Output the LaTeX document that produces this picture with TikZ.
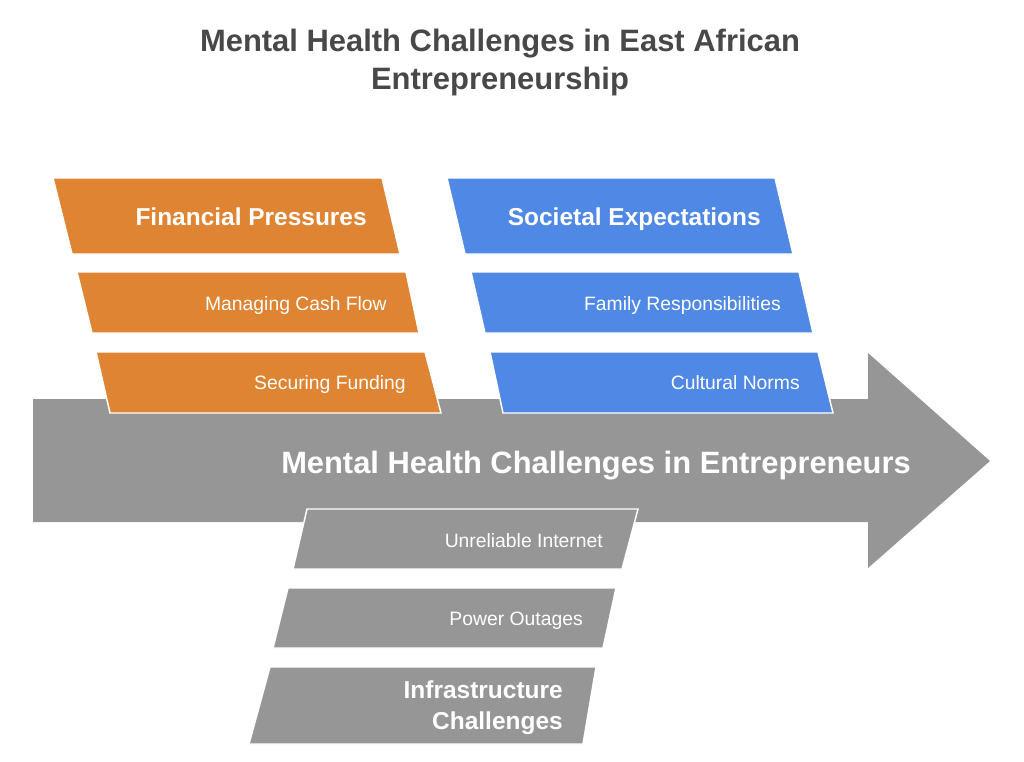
\documentclass[tikz,border=0pt]{standalone}
\usepackage{fontspec}
\setmainfont{Liberation Sans}
\definecolor{orangec}{RGB}{222,132,50}
\definecolor{bluec}{RGB}{79,137,229}
\definecolor{grayc}{RGB}{150,150,150}
\definecolor{titlec}{RGB}{72,72,72}
\tikzset{
  panel/.style={draw=white, line width=1.1pt, line join=miter},
  titletext/.style={font=\fontsize{23.2}{27}\selectfont\bfseries, text=titlec, inner sep=0pt},
  headtext/.style={font=\fontsize{18.35}{21}\selectfont\bfseries, text=white, inner sep=0pt},
  itemtext/.style={font=\fontsize{14.5}{17}\selectfont, text=white, inner sep=0pt},
  spinetext/.style={font=\fontsize{23.15}{27}\selectfont\bfseries, text=white, inner sep=0pt}
}
\begin{document}
\begin{tikzpicture}[x=0.75pt,y=-0.75pt]
\useasboundingbox (0,0) rectangle (1024,761);
% title
\node[titletext, anchor=base] (t1) at (500,51) {Mental Health Challenges in East African};
\node[titletext, anchor=base] (t2) at (500,89) {Entrepreneurship};
% spine arrow
\path[fill=grayc] (33,399) -- (868,399) -- (868,353) -- (990,461) -- (868,568) -- (868,522) -- (33,522) -- cycle;
\node[spinetext, anchor=base] (spine) at (596,473) {Mental Health Challenges in Entrepreneurs};
% financial
\path[panel, fill=orangec] (53,178) -- (382,178) -- (400,254) -- (72,254) -- cycle;
\path[panel, fill=orangec] (77,272) -- (406,272) -- (419,333) -- (92,333) -- cycle;
\path[panel, fill=orangec] (96,352) -- (425,352) -- (441,413) -- (110,413) -- cycle;
\node[headtext, anchor=base east] (fin) at (367,225) {Financial Pressures};
\node[itemtext, anchor=base east] (cash) at (387,310) {Managing Cash Flow};
\node[itemtext, anchor=base east] (fund) at (406,389) {Securing Funding};
% societal
\path[panel, fill=bluec] (447,178) -- (775,178) -- (793,254) -- (465,254) -- cycle;
\path[panel, fill=bluec] (471,272) -- (799,272) -- (813,333) -- (485,333) -- cycle;
\path[panel, fill=bluec] (490,352) -- (818,352) -- (833,413) -- (503,413) -- cycle;
\node[headtext, anchor=base east] (soc) at (761,225) {Societal Expectations};
\node[itemtext, anchor=base east] (fam) at (781,310) {Family Responsibilities};
\node[itemtext, anchor=base east] (cult) at (800,389) {Cultural Norms};
% infrastructure
\path[panel, fill=grayc] (307,509) -- (638,509) -- (622,569) -- (293,569) -- cycle;
\path[panel, fill=grayc] (288,588) -- (616,588) -- (603,648) -- (273,648) -- cycle;
\path[panel, fill=grayc] (270,667) -- (596,667) -- (583,744) -- (249,744) -- cycle;
\node[itemtext, anchor=base east] (net) at (603,547) {Unreliable Internet};
\node[itemtext, anchor=base east] (pow) at (583,625) {Power Outages};
\node[headtext, anchor=base east] (inf1) at (563,698) {Infrastructure};
\node[headtext, anchor=base east] (inf2) at (563,729) {Challenges};
\end{tikzpicture}
\end{document}
